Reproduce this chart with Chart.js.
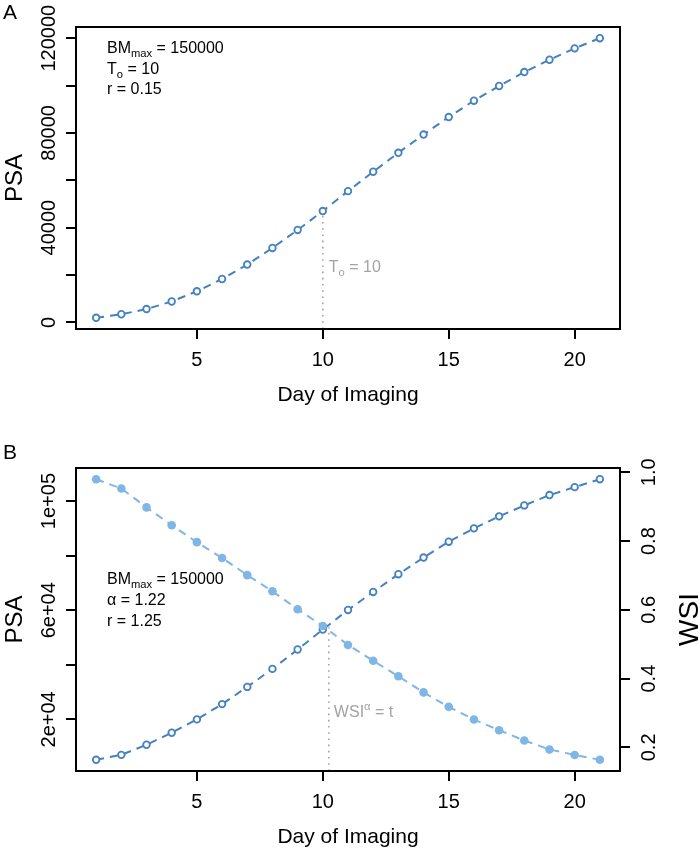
<!DOCTYPE html>
<html>
<head>
<meta charset="utf-8">
<script src="https://cdn.jsdelivr.net/npm/chart.js@4.4.0/dist/chart.umd.min.js"></script>
<style>
  html, body { margin: 0; padding: 0; background: #fff; }
  #wrap { position: relative; width: 700px; height: 850px; }
  canvas { position: absolute; left: 0; }
</style>
</head>
<body>
<div id="wrap">
  <canvas id="chartA" width="700" height="420" style="top:0"></canvas>
  <canvas id="chartB" width="700" height="430" style="top:420px"></canvas>
</div>
<script>
// --- data ---
const days = [1, 2, 3, 4, 5, 6, 7, 8, 9, 10, 11, 12, 13, 14, 15, 16, 17, 18, 19, 20, 21];
const psaA = [1900, 3400, 5600, 8800, 13100, 18300, 24400, 31400, 39000, 47000, 55400,
              63600, 71600, 79300, 86700, 93600, 99800, 105700, 110900, 115700, 120000];
const psaB = [5200, 7000, 10700, 15100, 20000, 25600, 31900, 38500, 45600, 52900, 60100,
              66700, 73200, 79300, 85100, 90000, 94400, 98400, 102200, 105100, 108000];
const wsiB = [0.980, 0.953, 0.898, 0.846, 0.797, 0.751, 0.701, 0.654, 0.602, 0.553, 0.498,
              0.452, 0.407, 0.360, 0.318, 0.281, 0.250, 0.220, 0.194, 0.178, 0.164];

// tick values and labels
const dayTicks = [5, 10, 15, 20];
const psaTicksA = [0, 20000, 40000, 60000, 80000, 100000, 120000];
const psaLabelsA = ['0', '', '40000', '', '80000', '', '120000'];
const psaTicksB = [20000, 40000, 60000, 80000, 100000];
const psaLabelsB = ['2e+04', '', '6e+04', '', '1e+05'];
const wsiTicks = [0.2, 0.4, 0.6, 0.8, 1.0];
const wsiLabels = ['0.2', '0.4', '0.6', '0.8', '1.0'];

// reference lines
const t0Day = 10;
const crossDay = 10.24;
const crossPSA = 53800;

const DARK = '#4581c0';
const LIGHT = '#7fb6e6';
const GREY = '#a3a3a3';
const FONT = '"Liberation Sans", Arial, Helvetica, sans-serif';

// R style axis range (4% padding)
function rng(arr) {
  const lo = Math.min(...arr), hi = Math.max(...arr), p = (hi - lo) * 0.04;
  return [lo - p, hi + p];
}
const [xMin, xMax] = rng(days);

// draws text pieces with sub/superscripts
function richText(ctx, parts, x, y, size, color) {
  ctx.save();
  ctx.fillStyle = color;
  ctx.textAlign = 'left';
  ctx.textBaseline = 'alphabetic';
  let cx = x;
  parts.forEach(p => {
    const s = p.sub || p.sup ? size * 0.7 : size;
    ctx.font = s + 'px ' + FONT;
    const dy = p.sub ? size * 0.25 : (p.sup ? -size * 0.45 : 0);
    ctx.fillText(p.t, cx, y + dy);
    cx += ctx.measureText(p.t).width;
  });
  ctx.restore();
}

function vText(ctx, txt, x, y, size) {
  ctx.save();
  ctx.translate(x, y);
  ctx.rotate(-Math.PI / 2);
  ctx.font = size + 'px ' + FONT;
  ctx.fillStyle = '#000';
  ctx.textAlign = 'center';
  ctx.textBaseline = 'alphabetic';
  ctx.fillText(txt, 0, 0);
  ctx.restore();
}

function hText(ctx, txt, x, y, size, align) {
  ctx.save();
  ctx.font = size + 'px ' + FONT;
  ctx.fillStyle = '#000';
  ctx.textAlign = align || 'center';
  ctx.textBaseline = 'alphabetic';
  ctx.fillText(txt, x, y);
  ctx.restore();
}

function dotted(ctx, x, y0, y1) {
  ctx.save();
  ctx.strokeStyle = GREY;
  ctx.lineWidth = 1.6;
  ctx.setLineDash([1.6, 4.6]);
  ctx.beginPath();
  ctx.moveTo(x, y0);
  ctx.lineTo(x, y1);
  ctx.stroke();
  ctx.restore();
}

function axisStyle(extra) {
  return Object.assign({
    type: 'linear',
    grid: { drawOnChartArea: false, drawTicks: true, tickLength: 10, color: '#000', lineWidth: 2 },
    border: { display: true, color: '#000', width: 2 },
    ticks: { display: false }
  }, extra);
}

// ---------- Panel A ----------
const [yAMin, yAMax] = rng(psaA);

const decorA = {
  id: 'decorA',
  beforeDatasetsDraw(chart) {
    const { ctx, scales: { x, y }, chartArea } = chart;
    dotted(ctx, x.getPixelForValue(t0Day), chartArea.bottom, y.getPixelForValue(psaA[days.indexOf(t0Day)]) + 4);
  },
  afterDraw(chart) {
    const { ctx, scales: { x, y }, chartArea: ca } = chart;
    ctx.save();
    ctx.strokeStyle = '#000';
    ctx.lineWidth = 2;
    ctx.strokeRect(ca.left, ca.top, ca.right - ca.left, ca.bottom - ca.top);
    ctx.restore();
    psaTicksA.forEach((v, i) => { if (psaLabelsA[i]) vText(ctx, psaLabelsA[i], 55, y.getPixelForValue(v), 20); });
    dayTicks.forEach(v => hText(ctx, String(v), x.getPixelForValue(v), 366, 20));
    hText(ctx, 'Day of Imaging', (ca.left + ca.right) / 2, 401, 21);
    vText(ctx, 'PSA', 22, (ca.top + ca.bottom) / 2, 24);
    hText(ctx, 'A', 3, 19, 21, 'left');
    richText(ctx, [{ t: 'BM' }, { t: 'max', sub: true }, { t: ' = 150000' }], 107, 53, 16, '#000');
    richText(ctx, [{ t: 'T' }, { t: 'o', sub: true }, { t: ' = 10' }], 107, 73.5, 16, '#000');
    richText(ctx, [{ t: 'r = 0.15' }], 107, 94, 16, '#000');
    richText(ctx, [{ t: 'T' }, { t: 'o', sub: true }, { t: ' = 10' }], x.getPixelForValue(t0Day) + 6, 272, 16, GREY);
  }
};

new Chart(document.getElementById('chartA'), {
  type: 'line',
  data: {
    labels: days,
    datasets: [{
      label: 'PSA',
      data: days.map((d, i) => ({ x: d, y: psaA[i] })),
      borderColor: DARK,
      borderWidth: 2,
      borderDash: [8, 6],
      tension: 0,
      pointRadius: 3.3,
      pointBorderWidth: 1.8,
      pointBorderColor: DARK,
      pointBackgroundColor: '#fff'
    }]
  },
  options: {
    responsive: false,
    animation: false,
    layout: { padding: { top: 27, right: 80, left: 0, bottom: 0 } },
    plugins: { legend: { display: false }, tooltip: { enabled: false } },
    scales: {
      x: axisStyle({
        min: xMin, max: xMax,
        afterBuildTicks: s => { s.ticks = dayTicks.map(v => ({ value: v })); },
        afterFit: s => { s.height = 91; }
      }),
      y: axisStyle({
        min: yAMin, max: yAMax,
        afterBuildTicks: s => { s.ticks = psaTicksA.map(v => ({ value: v })); },
        afterFit: s => { s.width = 76; }
      })
    }
  },
  plugins: [decorA]
});

// ---------- Panel B ----------
const [yBMin, yBMax] = rng(psaB);
const [wMin, wMax] = rng(wsiB);

const decorB = {
  id: 'decorB',
  beforeDatasetsDraw(chart) {
    const { ctx, scales: { x, y }, chartArea } = chart;
    dotted(ctx, x.getPixelForValue(crossDay), chartArea.bottom, y.getPixelForValue(crossPSA));
  },
  afterDraw(chart) {
    const { ctx, scales: { x, y, y2 }, chartArea: ca } = chart;
    ctx.save();
    ctx.strokeStyle = '#000';
    ctx.lineWidth = 2;
    ctx.strokeRect(ca.left, ca.top, ca.right - ca.left, ca.bottom - ca.top);
    ctx.restore();
    psaTicksB.forEach((v, i) => { if (psaLabelsB[i]) vText(ctx, psaLabelsB[i], 55, y.getPixelForValue(v), 20); });
    wsiTicks.forEach((v, i) => vText(ctx, wsiLabels[i], 655, y2.getPixelForValue(v), 20));
    dayTicks.forEach(v => hText(ctx, String(v), x.getPixelForValue(v), 388, 20));
    hText(ctx, 'Day of Imaging', (ca.left + ca.right) / 2, 423, 21);
    vText(ctx, 'PSA', 22, (ca.top + ca.bottom) / 2, 24);
    vText(ctx, 'WSI', 698, (ca.top + ca.bottom) / 2, 28);
    hText(ctx, 'B', 3, 39, 21, 'left');
    richText(ctx, [{ t: 'BM' }, { t: 'max', sub: true }, { t: ' = 150000' }], 107, 163.5, 16, '#000');
    richText(ctx, [{ t: '\u03b1 = 1.22' }], 107, 185, 16, '#000');
    richText(ctx, [{ t: 'r = 1.25' }], 107, 205.5, 16, '#000');
    richText(ctx, [{ t: 'WSI' }, { t: '\u03b1', sup: true }, { t: ' = t' }], x.getPixelForValue(crossDay) + 5, 297, 16, GREY);
  }
};

new Chart(document.getElementById('chartB'), {
  type: 'line',
  data: {
    labels: days,
    datasets: [{
      label: 'WSI',
      yAxisID: 'y2',
      data: days.map((d, i) => ({ x: d, y: wsiB[i] })),
      borderColor: LIGHT,
      borderWidth: 2,
      borderDash: [8, 6],
      tension: 0,
      pointRadius: 4.3,
      pointBorderWidth: 0,
      pointBackgroundColor: LIGHT
    }, {
      label: 'PSA',
      yAxisID: 'y',
      data: days.map((d, i) => ({ x: d, y: psaB[i] })),
      borderColor: DARK,
      borderWidth: 2,
      borderDash: [8, 6],
      tension: 0,
      pointRadius: 3.3,
      pointBorderWidth: 1.8,
      pointBorderColor: DARK,
      pointBackgroundColor: '#fff'
    }]
  },
  options: {
    responsive: false,
    animation: false,
    layout: { padding: { top: 48, right: 0, left: 0, bottom: 0 } },
    plugins: { legend: { display: false }, tooltip: { enabled: false } },
    scales: {
      x: axisStyle({
        min: xMin, max: xMax,
        afterBuildTicks: s => { s.ticks = dayTicks.map(v => ({ value: v })); },
        afterFit: s => { s.height = 79; }
      }),
      y: axisStyle({
        position: 'left',
        min: yBMin, max: yBMax,
        afterBuildTicks: s => { s.ticks = psaTicksB.map(v => ({ value: v })); },
        afterFit: s => { s.width = 76; }
      }),
      y2: axisStyle({
        position: 'right',
        min: wMin, max: wMax,
        afterBuildTicks: s => { s.ticks = wsiTicks.map(v => ({ value: v })); },
        afterFit: s => { s.width = 80; }
      })
    }
  },
  plugins: [decorB]
});
</script>
</body>
</html>
